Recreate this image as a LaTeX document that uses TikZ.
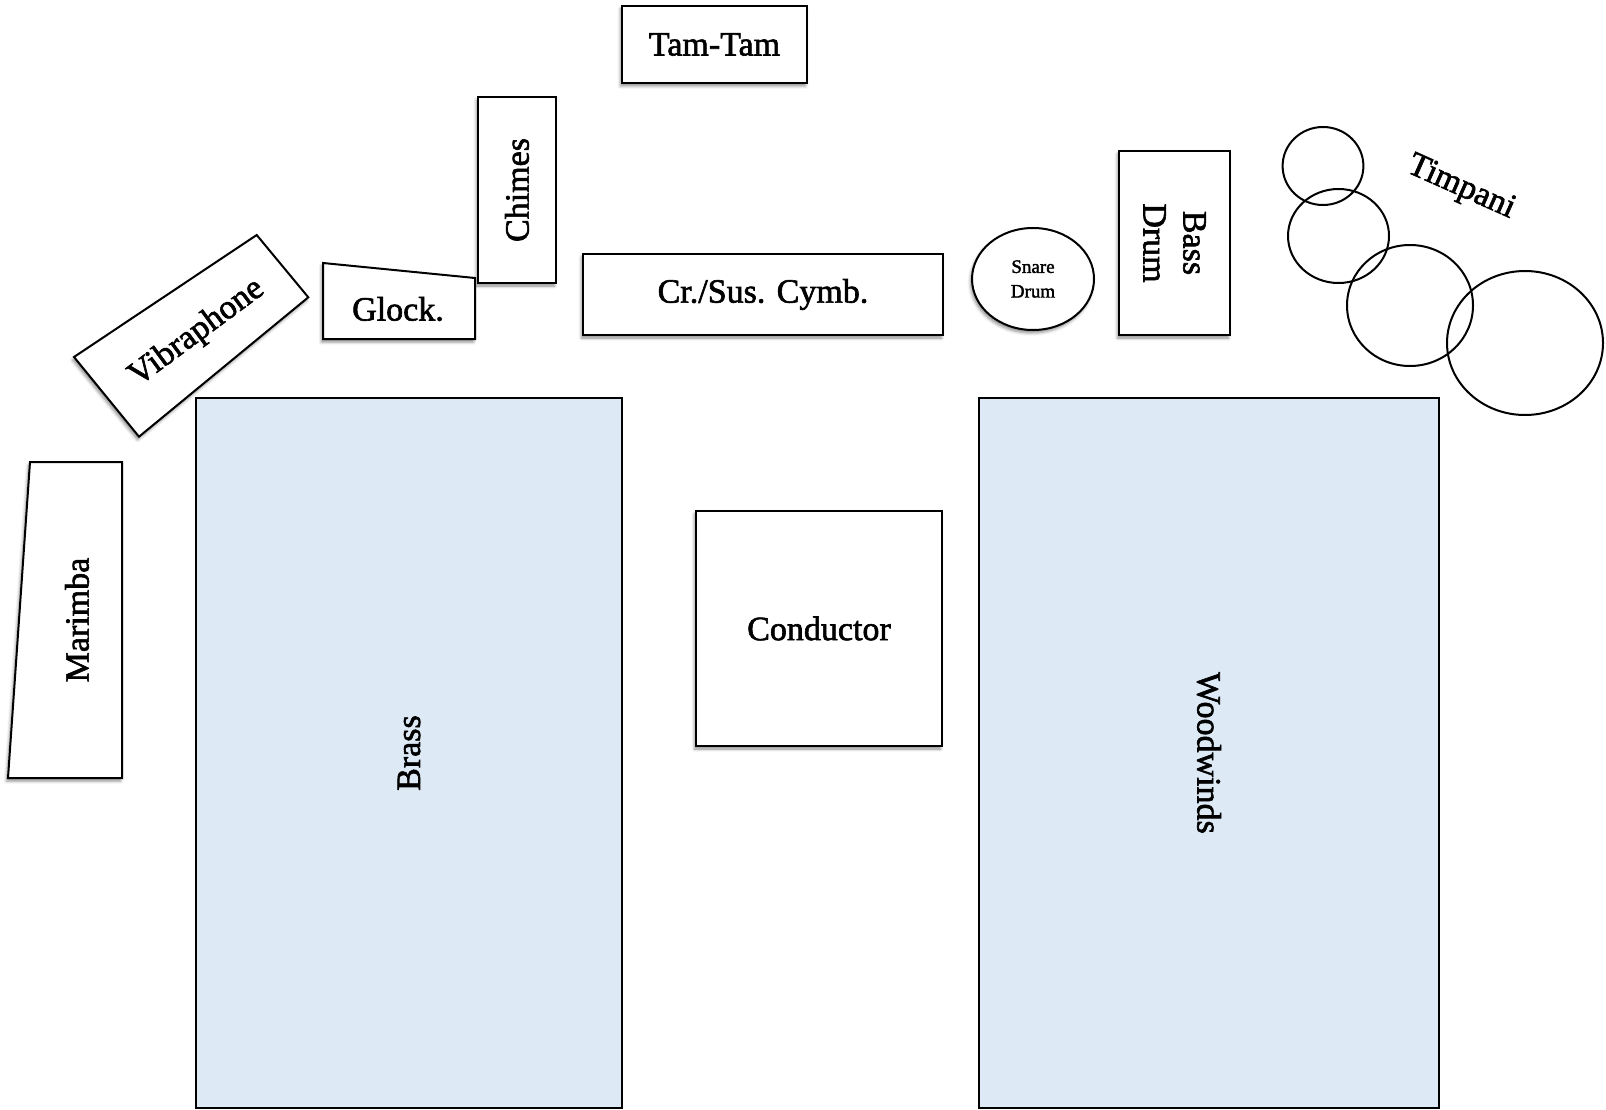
\documentclass[tikz,border=0pt]{standalone}
\usepackage{fontspec}
\setmainfont{Liberation Serif}[BoldFont={Liberation Serif},BoldFeatures={FakeBold=1.8}]
\usetikzlibrary{shapes.geometric,shadows.blur}
\definecolor{secfill}{HTML}{DDE9F5}
\tikzset{
  shad/.style={blur shadow={shadow xshift=-1.5pt,shadow yshift=-3pt,shadow blur radius=3pt,shadow opacity=45}},
  box/.style={draw=black,line width=2pt,fill=white,shad,inner sep=0pt,font=\fontsize{34}{40}\selectfont\bfseries},
  sect/.style={draw=black,line width=2pt,fill=secfill,inner sep=0pt,font=\fontsize{34}{40}\selectfont\bfseries},
  shapeline/.style={draw=black,line width=2pt,fill=white,shad},
  lbl/.style={inner sep=0pt,font=\fontsize{34}{40}\selectfont\bfseries},
  drum/.style={draw=black,line width=2pt,ellipse,inner sep=0pt}
}
\begin{document}
\begin{tikzpicture}[x=1pt,y=-1pt]
\useasboundingbox (0,0) rectangle (1606,1110);
% sections
\node[sect,minimum width=710,minimum height=426,rotate=90] (brass) at (409,753) {Brass};
\node[sect,minimum width=710,minimum height=460,rotate=-90] (wood) at (1209,753) {Woodwinds};
\node[box,minimum width=246,minimum height=235] (cond) at (819,628.5) {Conductor};
% top row
\node[box,minimum width=185,minimum height=77] (tam) at (714.5,44.5) {Tam-Tam};
\node[box,minimum width=186,minimum height=78,rotate=90] (chimes) at (517,190) {Chimes};
\node[box,minimum width=360,minimum height=81] (cymb) at (763,294.5) {Cr./Sus. Cymb.};
\node[box,minimum width=184,minimum height=111,rotate=-90,align=center] (bass) at (1174.5,243) {Bass\\Drum};
\node[box,ellipse,minimum width=122,minimum height=102,font=\fontsize{19}{24.6}\selectfont\bfseries,align=center] (snare) at (1033,279) {Snare\\Drum};
% glock
\path[shapeline] (323,263) -- (475,278) -- (475,339) -- (323,339) -- cycle;
\node[lbl] (glock) at (398,309) {Glock.};
% vibraphone
\path[shapeline] (74,357) -- (256.7,235) -- (308.3,297.3) -- (139,436.7) -- cycle;
\node[lbl,rotate=36.5] (vib) at (197,333) {Vibraphone};
% marimba
\path[shapeline] (30,462) -- (122,462) -- (122,778) -- (8,778) -- cycle;
\node[lbl,rotate=90] (marimba) at (77,620) {Marimba};
% timpani
\node[drum,minimum width=80.8,minimum height=78] (t1) at (1323,166) {};
\node[drum,minimum width=101,minimum height=94] (t2) at (1338.5,236) {};
\node[drum,minimum width=126,minimum height=121] (t3) at (1410,305.5) {};
\node[drum,minimum width=156,minimum height=144] (t4) at (1525,343) {};
\node[lbl,rotate=-24] (timp) at (1461,188) {Timpani};
\end{tikzpicture}
\end{document}
